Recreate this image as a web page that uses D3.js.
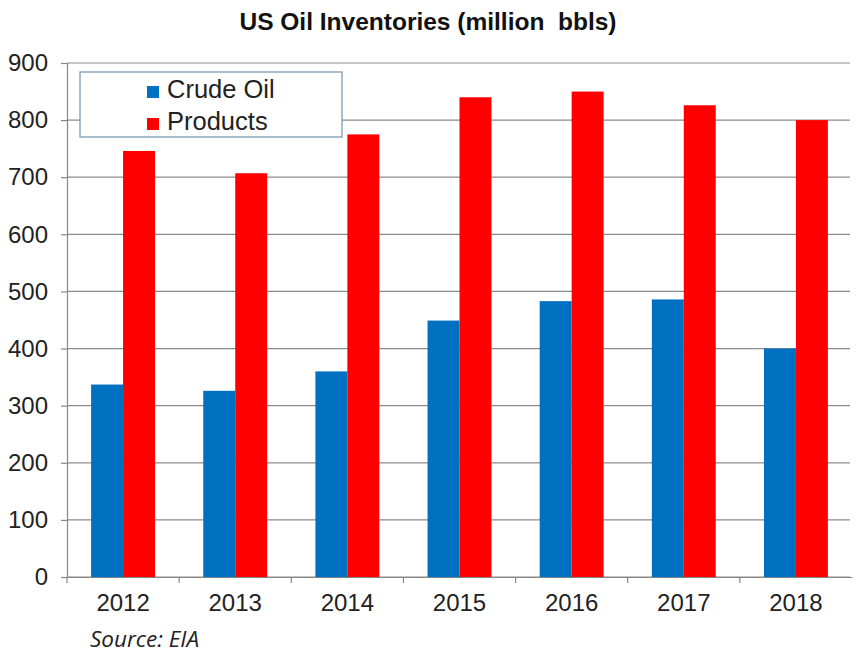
<!DOCTYPE html>
<html>
<head>
<meta charset="utf-8">
<script src="https://cdn.jsdelivr.net/npm/d3@7"></script>
<style>
    body { margin: 0; background: #fff; }
    text { font-family: "Liberation Sans", Arial, sans-serif; }
</style>
</head>
<body>
<svg id="chart" width="856" height="655"></svg>
<script>
    var years = ["2012", "2013", "2014", "2015", "2016", "2017", "2018"];
    var crudeOil = [337, 326, 360, 449, 483, 486, 400];
    var products = [746, 707, 775, 840, 850, 826, 800];
    var seriesNames = ["Crude Oil", "Products"];
    var seriesColors = ["#0070c0", "#ff0000"];
    var yTicks = [0, 100, 200, 300, 400, 500, 600, 700, 800, 900];

    var svg = d3.select("#chart");

    // plot box (note: "top" is a reserved window global, so use plot* names)
    var plotLeft = 67, plotRight = 852, plotTop = 63, plotBottom = 577;

    var x = d3.scaleBand()
        .domain(years)
        .range([plotLeft, plotRight])
        .paddingInner(0.43)
        .paddingOuter(0.215);

    var xSub = d3.scaleBand()
        .domain(seriesNames)
        .range([0, x.bandwidth()]);

    var y = d3.scaleLinear()
        .domain([0, 900])
        .range([plotBottom, plotTop]);

    // gridlines
    svg.append("g")
        .selectAll("line")
        .data(yTicks)
        .enter().append("line")
        .attr("x1", plotLeft)
        .attr("x2", plotRight - 2)
        .attr("y1", function(d) { return y(d); })
        .attr("y2", function(d) { return y(d); })
        .attr("stroke", "#8c8c8c")
        .attr("stroke-width", 1.2);

    // bars
    var table = years.map(function(yr, i) {
        return { year: yr, values: [crudeOil[i], products[i]] };
    });

    var groups = svg.append("g")
        .selectAll("g")
        .data(table)
        .enter().append("g")
        .attr("transform", function(d) { return "translate(" + x(d.year) + ",0)"; });

    groups.selectAll("rect")
        .data(function(d) { return d.values.map(function(v, j) { return { name: seriesNames[j], value: v, color: seriesColors[j] }; }); })
        .enter().append("rect")
        .attr("x", function(d) { return xSub(d.name); })
        .attr("width", xSub.bandwidth())
        .attr("y", function(d) { return y(d.value); })
        .attr("height", function(d) { return y(0) - y(d.value); })
        .attr("fill", function(d) { return d.color; });

    // y axis
    var yAxis = d3.axisLeft(y)
        .tickValues(yTicks)
        .tickSize(6)
        .tickPadding(13);

    var yg = svg.append("g")
        .attr("transform", "translate(" + plotLeft + ",0)")
        .call(yAxis);
    yg.select(".domain").attr("stroke", "#868686").attr("stroke-width", 1.2);
    yg.selectAll(".tick line").attr("stroke", "#868686").attr("stroke-width", 1.2);
    yg.selectAll(".tick text")
        .attr("font-size", 24)
        .attr("fill", "#222")
        .attr("font-family", "Liberation Sans, Arial, sans-serif");

    // x axis with ticks between categories
    var xAxis = d3.axisBottom(x).tickSize(0).tickPadding(17);
    var xg = svg.append("g")
        .attr("transform", "translate(0," + plotBottom + ")")
        .call(xAxis);
    xg.select(".domain").attr("stroke", "#868686").attr("stroke-width", 1.2);
    xg.selectAll(".tick text")
        .attr("font-size", 24)
        .attr("fill", "#222")
        .attr("font-family", "Liberation Sans, Arial, sans-serif");

    var step = x.step();
    var boundaries = d3.range(years.length).map(function(i) { return plotLeft + i * step; });
    xg.selectAll("line.sep")
        .data(boundaries)
        .enter().append("line")
        .attr("class", "sep")
        .attr("x1", function(d) { return d; })
        .attr("x2", function(d) { return d; })
        .attr("y1", 0)
        .attr("y2", 6)
        .attr("stroke", "#868686")
        .attr("stroke-width", 1.2);

    // title
    svg.append("text")
        .attr("x", 428)
        .attr("y", 30)
        .attr("text-anchor", "middle")
        .attr("font-size", 24.5)
        .attr("font-weight", "bold")
        .attr("fill", "#111")
        .attr("xml:space", "preserve")
        .text("US Oil Inventories (million  bbls)");

    // legend
    var legend = svg.append("g");
    legend.append("rect")
        .attr("x", 80)
        .attr("y", 72)
        .attr("width", 262)
        .attr("height", 65)
        .attr("fill", "#fff")
        .attr("stroke", "#7f9bb3")
        .attr("stroke-width", 1.3);

    var items = legend.selectAll("g.item")
        .data(seriesNames)
        .enter().append("g")
        .attr("class", "item")
        .attr("transform", function(d, i) { return "translate(147," + (86 + i * 32) + ")"; });

    items.append("rect")
        .attr("width", 12)
        .attr("height", 12)
        .attr("fill", function(d, i) { return seriesColors[i]; });

    items.append("text")
        .attr("x", 20)
        .attr("y", 12)
        .attr("font-size", 25.5)
        .attr("fill", "#222")
        .text(function(d) { return d; });

    // source note
    svg.append("text")
        .attr("x", 90)
        .attr("y", 647)
        .attr("font-size", 22.5)
        .attr("font-style", "italic")
        .attr("fill", "#222")
        .style("font-family", "'Open Sans', 'Noto Sans', sans-serif")
        .text("Source: EIA");
</script>
</body>
</html>
